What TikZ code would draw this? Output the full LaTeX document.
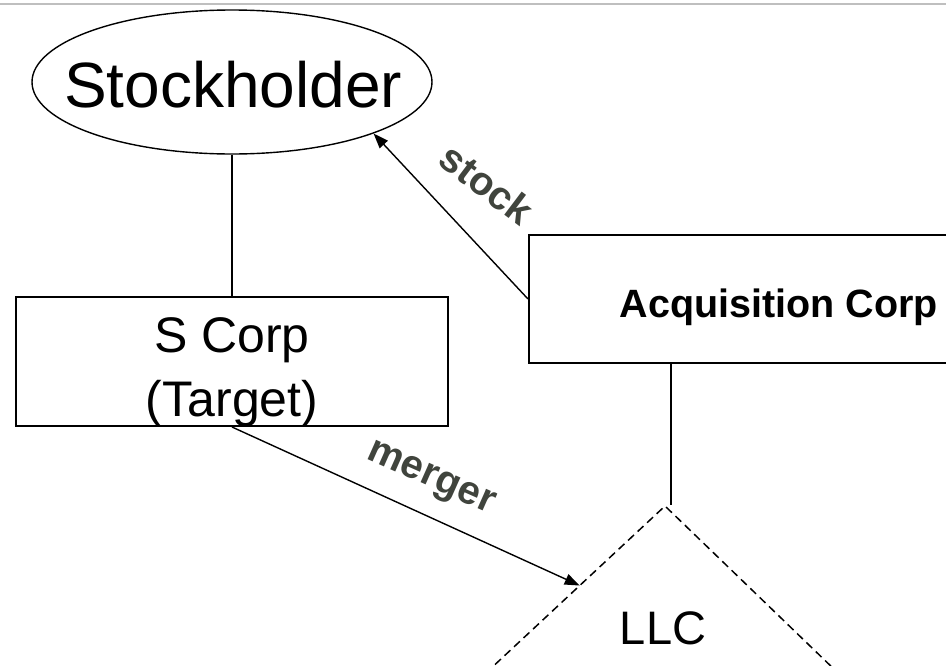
\documentclass[tikz,border=0pt]{standalone}
\usepackage{fontspec}
\setmainfont{Liberation Sans}
\usetikzlibrary{calc,positioning,shapes.geometric,arrows.meta}
\definecolor{dealgray}{RGB}{64,68,61}
\definecolor{rulegray}{RGB}{191,191,191}
\tikzset{
  corpbox/.style={draw, rectangle, line width=2pt, inner sep=0pt},
  tiebar/.style={line width=2pt},
  dealflow/.style={line width=1.4pt, -{Triangle[length=15pt,width=11pt]}},
  dealword/.style={text=dealgray, inner sep=0pt, font=\fontsize{40}{48}\selectfont\bfseries}
}
\newcommand\bigsize[1]{\fontsize{#1}{#1}\selectfont}

\begin{document}
\begin{tikzpicture}[x=1pt,y=-1pt]
        \useasboundingbox (0,0) rectangle (946,665);
        \clip (0,0) rectangle (946,665);
        % Rule along the top
        \draw[rulegray, line width=2pt] (0,3.5) -- (946,3.5);

        % The stockholder
        \node[draw, ellipse, line width=1.4pt, inner sep=0pt,
              minimum width=400pt, minimum height=144pt] (stock) at (232,82) {};
        \node[anchor=base, inner sep=0pt, font=\bigsize{64}] (stock text) at (233,107) {Stockholder};

        % The corporations
        \node[corpbox, minimum width=432pt, minimum height=129pt] (scorp) at (232,361.5) {};
        \node[align=center, inner sep=0pt, font=\fontsize{50}{64}\selectfont] (scorp text)
              at (232,372) {S Corp\\(Target)};
        \node[corpbox, anchor=north west, minimum width=500pt, minimum height=128pt] (acq) at (528,234) {};
        \node[anchor=base, inner sep=0pt, font=\bigsize{39.5}\bfseries] (acq text)
              at (779,317) {Acquisition Corp};

        % The LLC
        \coordinate (llc top) at (665,506);
        \coordinate (llc left) at (457,700);
        \coordinate (llc right) at (866,700);
        \coordinate (llc post) at (671,505);
        \coordinate (llc join) at ($(llc top)!0.41!(llc left)$);
        \draw[line width=1.5pt, dash pattern=on 8pt off 5pt] (llc left) -- (llc top) -- (llc right);
        \node[anchor=base, inner sep=0pt, font=\bigsize{47}] (llc) at (663,644) {LLC};

        % Ties and transfers
        \draw[tiebar] (stock.south) -- (scorp.north);
        \draw[tiebar] (llc post |- acq.south) -- (llc post);
        \draw[dealflow] (acq.west) -- (stock.-20);
        \draw[dealflow] (scorp.south) -- (llc join);
        \node[dealword, rotate=-37] (stock word) at (487,184) {stock};
        \node[dealword, rotate=-24] (merger word) at (430,480) {merger};
\end{tikzpicture}
\end{document}
